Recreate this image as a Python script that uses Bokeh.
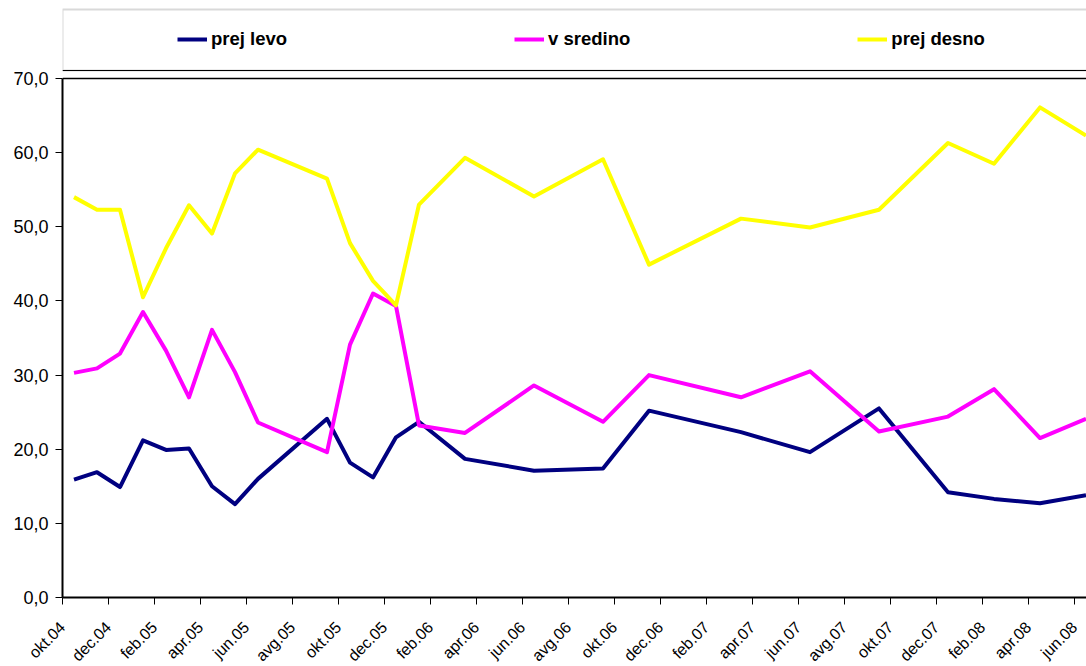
import math
from bokeh.plotting import figure
from bokeh.models import (ColumnDataSource, FixedTicker, Range1d, Legend, LegendItem,
                          BoxAnnotation, Span)
from bokeh.embed import file_html
from bokeh.resources import INLINE

# ---------------- data ----------------
months = ["2004-10", "2004-11", "2004-12", "2005-01", "2005-02", "2005-03", "2005-04",
          "2005-05", "2005-06", "2005-09", "2005-10", "2005-11", "2005-12", "2006-01",
          "2006-03", "2006-06", "2006-09", "2006-11", "2007-03", "2007-06", "2007-09",
          "2007-12", "2008-02", "2008-04", "2008-06"]
prej_levo = [15.9, 16.9, 14.9, 21.2, 19.9, 20.1, 15.0, 12.6, 16.0, 24.1, 18.2, 16.2, 21.6,
             23.7, 18.7, 17.1, 17.4, 25.2, 22.3, 19.6, 25.5, 14.2, 13.3, 12.7, 13.8]
v_sredino = [30.3, 30.9, 32.9, 38.5, 33.3, 27.0, 36.1, 30.4, 23.6, 19.6, 34.1, 41.0, 39.3,
             23.2, 22.2, 28.6, 23.7, 30.0, 27.0, 30.5, 22.4, 24.4, 28.1, 21.5, 24.1]
prej_desno = [54.0, 52.3, 52.3, 40.5, 47.1, 52.9, 49.1, 57.2, 60.4, 56.5, 47.8, 42.7, 39.4,
              53.0, 59.3, 54.1, 59.1, 44.9, 51.1, 49.9, 52.3, 61.3, 58.5, 66.1, 62.3]
series_names = ["prej levo", "v sredino", "prej desno"]
series_colors = ["#000080", "#FF00FF", "#FFFF00"]
x_tick_labels = ["okt.04", "dec.04", "feb.05", "apr.05", "jun.05", "avg.05", "okt.05",
                 "dec.05", "feb.06", "apr.06", "jun.06", "avg.06", "okt.06", "dec.06",
                 "feb.07", "apr.07", "jun.07", "avg.07", "okt.07", "dec.07", "feb.08",
                 "apr.08", "jun.08"]
y_ticks = [0, 10, 20, 30, 40, 50, 60, 70]
y_tick_labels = ["0,0", "10,0", "20,0", "30,0", "40,0", "50,0", "60,0", "70,0"]

# ---------------- helpers ----------------
MONTH_NUM = {"jan": 1, "feb": 2, "mar": 3, "apr": 4, "maj": 5, "jun": 6, "jul": 7,
             "avg": 8, "sep": 9, "okt": 10, "nov": 11, "dec": 12}


def idx_from_iso(s):
    y, m = map(int, s.split("-"))
    return (y - 2004) * 12 + (m - 10)


def idx_from_label(s):
    mon, yy = s.split(".")
    return (2000 + int(yy) - 2004) * 12 + (MONTH_NUM[mon] - 10)


x = [idx_from_iso(m) for m in months]
src = ColumnDataSource(dict(x=x, a=prej_levo, b=v_sredino, c=prej_desno))

# layout constants (pixels)
FRAME_W, FRAME_H = 1024, 597
TOP_OF_70 = 78
px_per_unit = (FRAME_H - TOP_OF_70) / 70.0
y_end = FRAME_H / px_per_unit
x_start = -0.5
x_end = x_start + FRAME_W / 23.0

p = figure(frame_width=FRAME_W, frame_height=FRAME_H, min_border_left=62, min_border_right=0,
           min_border_top=0, min_border_bottom=69,
           x_range=Range1d(x_start, x_end), y_range=Range1d(0, y_end),
           output_backend="svg", toolbar_location=None, tools="")
p.outline_line_color = None
p.xgrid.visible = False
p.ygrid.visible = False
p.background_fill_color = "white"
p.border_fill_color = "white"

renderers = []
for col, name, color in zip(["a", "b", "c"], series_names, series_colors):
    r = p.line(x="x", y=col, source=src, line_color=color, line_width=4, line_join="round")
    renderers.append(r)

# y axis
ya = p.yaxis[0]
ya.ticker = FixedTicker(ticks=y_ticks, minor_ticks=[])
ya.bounds = (0, 70)
ya.major_label_overrides = {t: l for t, l in zip(y_ticks, y_tick_labels)}
ya.major_tick_out = 7
ya.major_tick_in = 0
ya.minor_tick_out = 0
ya.minor_tick_in = 0
ya.axis_line_width = 2
ya.axis_line_color = "black"
ya.major_tick_line_color = "black"
ya.major_label_text_font = "Liberation Sans"
ya.major_label_text_font_size = "18px"
ya.major_label_text_color = "black"
ya.major_label_standoff = 7

# x axis
xa = p.xaxis[0]
tick_pos = [idx_from_label(l) - 0.5 for l in x_tick_labels]
xa.ticker = FixedTicker(ticks=tick_pos, minor_ticks=[])
xa.major_label_overrides = {t: l for t, l in zip(tick_pos, x_tick_labels)}
xa.major_label_orientation = math.pi / 4
xa.major_tick_out = 7
xa.major_tick_in = 0
xa.minor_tick_out = 0
xa.minor_tick_in = 0
xa.axis_line_width = 2
xa.axis_line_color = "black"
xa.major_tick_line_color = "black"
xa.major_label_text_font = "Liberation Sans"
xa.major_label_text_font_size = "16px"
xa.major_label_text_color = "black"
xa.major_label_standoff = 20

# plot area top border (at 70)
p.add_layout(Span(location=70, dimension="width", line_color="black", line_width=1.5))

# legend box
leg_top = (FRAME_H - 9) / px_per_unit
leg_bottom = (FRAME_H - 70) / px_per_unit
p.add_layout(BoxAnnotation(left=x_start, right=x_end + 20, bottom=leg_bottom, top=leg_top,
                           fill_color=None, line_color="#808080", line_width=2))
p.add_layout(Span(location=leg_bottom, dimension="width", line_color="black", line_width=1.2))

legend = Legend(items=[LegendItem(label=n, renderers=[r]) for n, r in zip(series_names, renderers)],
                orientation="horizontal", location=(115, 547), padding=0, margin=0,
                spacing=227, glyph_width=30, glyph_height=20, label_standoff=4,
                border_line_alpha=0, background_fill_alpha=0,
                label_text_font="Liberation Sans", label_text_font_style="bold",
                label_text_font_size="18.5px", label_text_color="black")
p.add_layout(legend)

open("out.html", "w").write(file_html(p, INLINE))
